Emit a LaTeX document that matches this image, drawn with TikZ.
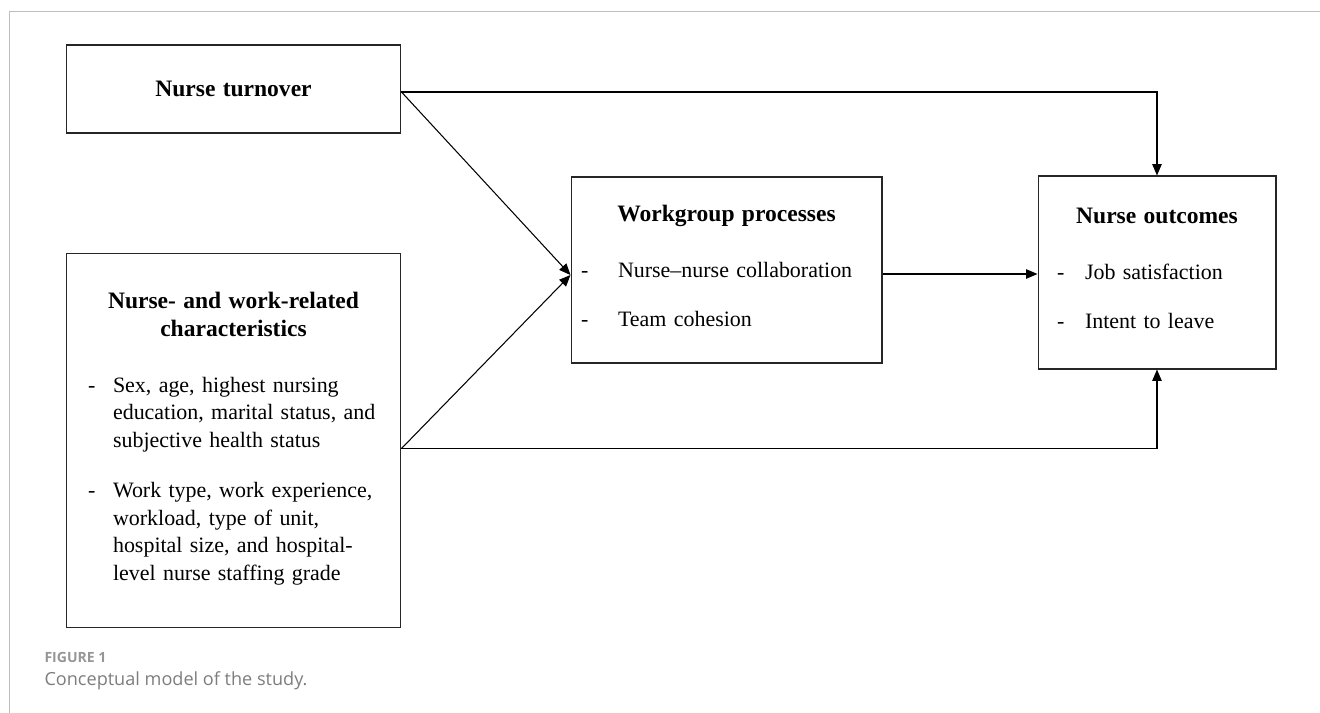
\documentclass[tikz,border=0pt]{standalone}
\usepackage{fontspec}
\usepackage{xcolor}
\usepackage{tikz}
\usetikzlibrary{arrows.meta}
\setmainfont{Liberation Serif}
\newfontfamily\capfont{Open Sans}

\definecolor{framegray}{RGB}{190,190,190}
\definecolor{figgray}{RGB}{150,150,150}
\definecolor{capgray}{RGB}{125,125,125}

% centered bold heading line, and a dash item with hanging lines
\newcommand{\hd}[1]{\makebox[\hsize]{\fontsize{13.4}{15.65}\selectfont\bfseries #1}}
\newcommand{\itm}[2]{\hspace*{#1}\makebox[\dimexpr0.94cm-#1\relax][l]{-}\begin{tabular}[t]{@{}l@{}}#2\end{tabular}}

\begin{document}
\begin{tikzpicture}[x=0.02cm,y=-0.02cm,->,>={Triangle[length=6.5pt,width=5.4pt]},
            semithick]
        \tikzstyle{box}=[draw=black!85,rectangle,inner sep=0pt,align=left,
            font=\fontsize{12.5}{15.65}\selectfont]

        \useasboundingbox (0,0) rectangle (1320,713);
        \draw[-,framegray,thin] (9,713) -- (9,11) -- (1320,11);

        \node[box,text width=6.7cm,minimum height=1.76cm] (nt) at (233.5,89) {\hd{Nurse turnover}};
        \node[box,text width=6.7cm,minimum height=7.5cm] (nwr) at (233.5,440.5)
            {\hd{Nurse- and work-related}\\
             \hd{characteristics}\\[16.2pt]
             \itm{0.44cm}{Sex, age, highest nursing\\education, marital status, and\\subjective health status}\\[12.2pt]
             \itm{0.44cm}{Work type, work experience,\\workload, type of unit,\\hospital size, and hospital-\\level nurse staffing grade}};
        \node[box,text width=6.22cm,minimum height=3.72cm] (wp) at (726.5,270)
            {\hd{Workgroup processes}\\[16.2pt]
             \itm{0.2cm}{Nurse--nurse collaboration}\\[12.2pt]
             \itm{0.2cm}{Team cohesion}};
        \node[box,text width=4.76cm,minimum height=3.86cm] (no) at (1157,272.5)
            {\hd{Nurse outcomes}\\[16.2pt]
             \itm{0.38cm}{Job satisfaction}\\[12.2pt]
             \itm{0.38cm}{Intent to leave}};

        \draw ([yshift=-0.06cm]nt.east) -- ([yshift=-0.1cm]wp.west);
        \draw ([yshift=-0.16cm]nwr.east) -- ([yshift=-0.1cm]wp.west);
        \draw ([yshift=-0.08cm]wp.east) -- ([yshift=-0.08cm]wp.east -| no.west);
        \draw ([yshift=-0.06cm]nt.east) -| (no.north);
        \draw ([yshift=-0.16cm]nwr.east) -| (no.south);

        \node[anchor=west,inner sep=0pt,text=figgray,font=\capfont\bfseries\fontsize{8}{9.5}\selectfont] (fig) at (44,657) {FIGURE 1};
        \node[anchor=west,inner sep=0pt,text=capgray,font=\capfont\fontsize{10.3}{12}\selectfont] (cap) at (44,681) {Conceptual model of the study.};
    \end{tikzpicture}
\end{document}
